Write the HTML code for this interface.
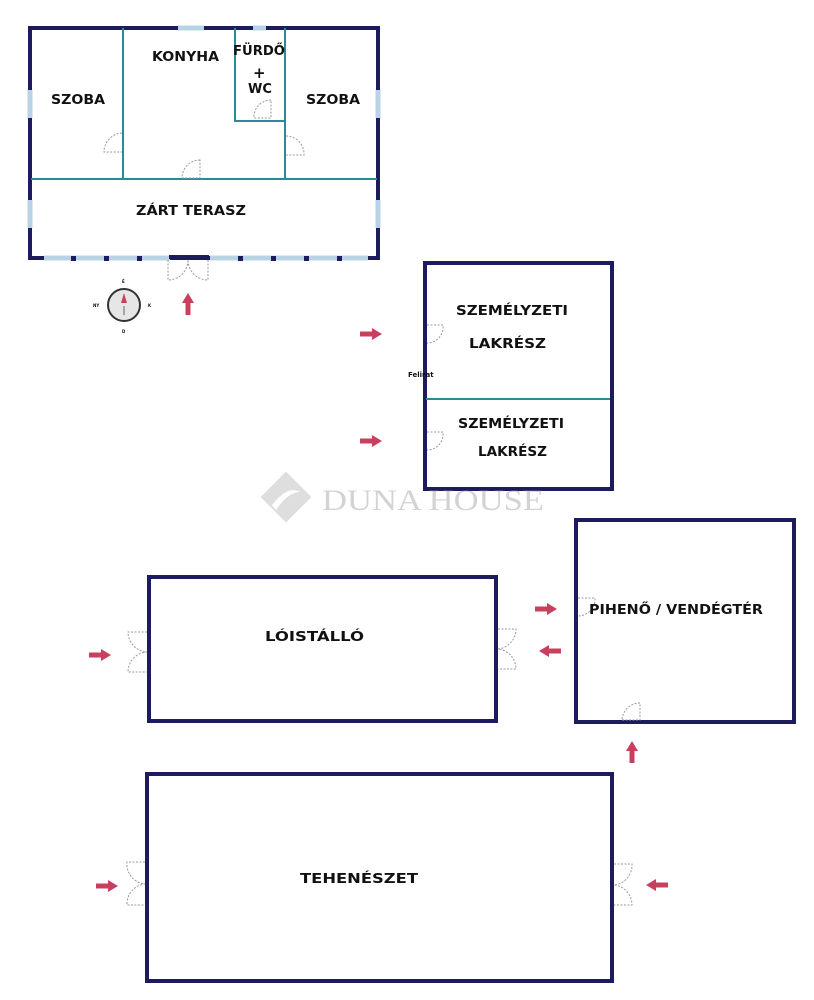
<!DOCTYPE html>
<html><head><meta charset="utf-8"><style>
html,body{margin:0;padding:0;background:#fff;}
svg{display:block}
text{font-family:"DejaVu Sans","Liberation Sans",sans-serif;font-weight:bold;fill:#111;}
</style></head><body>
<svg width="814" height="1000" viewBox="0 0 814 1000" xmlns="http://www.w3.org/2000/svg">
<defs>
<polygon id="ar" points="-11,-2.5 1,-2.5 1,-6 11,0 1,6 1,2.5 -11,2.5" fill="#c8405e"/>
</defs>
<g fill="none" stroke="#1b1b5e" stroke-width="4">
<rect x="30" y="28" width="348" height="230"/>
<rect x="149" y="577" width="347" height="144"/>
<rect x="425" y="263" width="187" height="226"/>
<rect x="576" y="520" width="218" height="202"/>
<rect x="147" y="774" width="465" height="207"/>
</g>
<g stroke="#b8d4e4" stroke-width="5">
<line x1="178" y1="28" x2="204" y2="28"/>
<line x1="253" y1="28" x2="266" y2="28"/>
<line x1="30" y1="90" x2="30" y2="118"/>
<line x1="30" y1="200" x2="30" y2="228"/>
<line x1="378" y1="90" x2="378" y2="118"/>
<line x1="378" y1="200" x2="378" y2="228"/>
<line x1="44" y1="258" x2="170" y2="258"/>
<line x1="210" y1="258" x2="368" y2="258"/>
</g>
<g fill="#1b1b5e">
<rect x="71" y="256" width="5" height="5"/><rect x="104" y="256" width="5" height="5"/><rect x="137" y="256" width="5" height="5"/>
<rect x="238" y="256" width="5" height="5"/><rect x="271" y="256" width="5" height="5"/><rect x="304" y="256" width="5" height="5"/><rect x="337" y="256" width="5" height="5"/>
<rect x="169" y="255" width="40" height="4"/>
</g>
<g fill="none" stroke="#2a8a9a" stroke-width="2">
<line x1="123" y1="28" x2="123" y2="179"/>
<line x1="285" y1="28" x2="285" y2="179"/>
<polyline points="235,28 235,121 285,121"/>
<line x1="31" y1="179" x2="377" y2="179"/>
<line x1="426" y1="399" x2="610" y2="399"/>
</g>
<g fill="none" stroke="#999" stroke-width="1" stroke-dasharray="2,1.5">
<path d="M122,133 A19,19 0 0 0 104,152 L122,152"/>
<path d="M286,136 A18,18 0 0 1 304,155 L286,155"/>
<path d="M200,160 A18,18 0 0 0 182,178 L200,178 Z"/>
<path d="M271,100 A17,17 0 0 0 254,118 L271,118 Z"/>
<path d="M168,260 L168,280 A20,20 0 0 0 188,260 M208,260 L208,280 A20,20 0 0 1 188,260"/>
<path d="M427,325 L443,325 A16,16 0 0 1 427,343"/>
<path d="M427,432 L443,432 A16,16 0 0 1 427,450"/>
<path d="M578,598 L595,598 A17,17 0 0 1 578,616"/>
<path d="M622,720 L640,720 L640,703 A18,18 0 0 0 622,720"/>
<path d="M147,632 L128,632 A20,20 0 0 0 147,652 A20,20 0 0 0 128,672 L147,672"/>
<path d="M498,629 L516,629 A20,20 0 0 1 498,649 A20,20 0 0 1 516,669 L498,669"/>
<path d="M145,862 L127,862 A20,20 0 0 0 145,884 A20,20 0 0 0 127,905 L145,905"/>
<path d="M614,864 L632,864 A20,20 0 0 1 614,885 A20,20 0 0 1 632,905 L614,905"/>
</g>
<use href="#ar" transform="translate(188,304) rotate(-90)"/>
<use href="#ar" transform="translate(371,334)"/>
<use href="#ar" transform="translate(371,441)"/>
<use href="#ar" transform="translate(546,609)"/>
<use href="#ar" transform="translate(550,651) rotate(180)"/>
<use href="#ar" transform="translate(100,655)"/>
<use href="#ar" transform="translate(632,752) rotate(-90)"/>
<use href="#ar" transform="translate(107,886)"/>
<use href="#ar" transform="translate(657,885) rotate(180)"/>
<circle cx="124" cy="305" r="16" fill="#e6e6e6" stroke="#333" stroke-width="2"/>
<polygon points="124,293 127,303 121,303" fill="#c8405e"/>
<line x1="124" y1="306" x2="124" y2="315" stroke="#666" stroke-width="1"/>
<g font-size="4" style="font-weight:normal"><text x="122" y="283">É</text><text x="93" y="307">NY</text><text x="148" y="307">K</text><text x="122" y="333">D</text></g>
<g font-size="13">
<text x="51" y="104" textLength="54" lengthAdjust="spacingAndGlyphs">SZOBA</text>
<text x="152" y="61" textLength="67" lengthAdjust="spacingAndGlyphs">KONYHA</text>
<text x="233" y="55" textLength="52" lengthAdjust="spacingAndGlyphs">FÜRDŐ</text>
<text x="253" y="78" font-size="15">+</text>
<text x="248" y="93">WC</text>
<text x="306" y="104" textLength="54" lengthAdjust="spacingAndGlyphs">SZOBA</text>
<text x="136" y="215" textLength="110" lengthAdjust="spacingAndGlyphs">ZÁRT TERASZ</text>
<text x="456" y="315" textLength="112" lengthAdjust="spacingAndGlyphs">SZEMÉLYZETI</text>
<text x="469" y="348" textLength="77" lengthAdjust="spacingAndGlyphs">LAKRÉSZ</text>
<text x="458" y="428" textLength="106" lengthAdjust="spacingAndGlyphs">SZEMÉLYZETI</text>
<text x="478" y="456" textLength="69" lengthAdjust="spacingAndGlyphs">LAKRÉSZ</text>
<text x="589" y="614" textLength="174" lengthAdjust="spacingAndGlyphs">PIHENŐ / VENDÉGTÉR</text>
<text x="265" y="641" textLength="99" lengthAdjust="spacingAndGlyphs">LÓISTÁLLÓ</text>
<text x="300" y="883" textLength="118" lengthAdjust="spacingAndGlyphs">TEHENÉSZET</text>
</g>
<text x="408" y="377" font-size="7">Felirat</text>
<g opacity="0.55">
<rect x="268" y="479" width="36" height="36" transform="rotate(45 286 497)" fill="#c4c4c4"/>
<path d="M272,505 Q288,485 300,492 Q288,492 276,510Z" fill="#fff"/>
<text x="322" y="510" font-size="30" textLength="222" lengthAdjust="spacingAndGlyphs" style="font-family:'Liberation Serif',serif;font-weight:normal;fill:#b0b0b0">DUNA HOUSE</text>
</g>
</svg>
</body></html>
